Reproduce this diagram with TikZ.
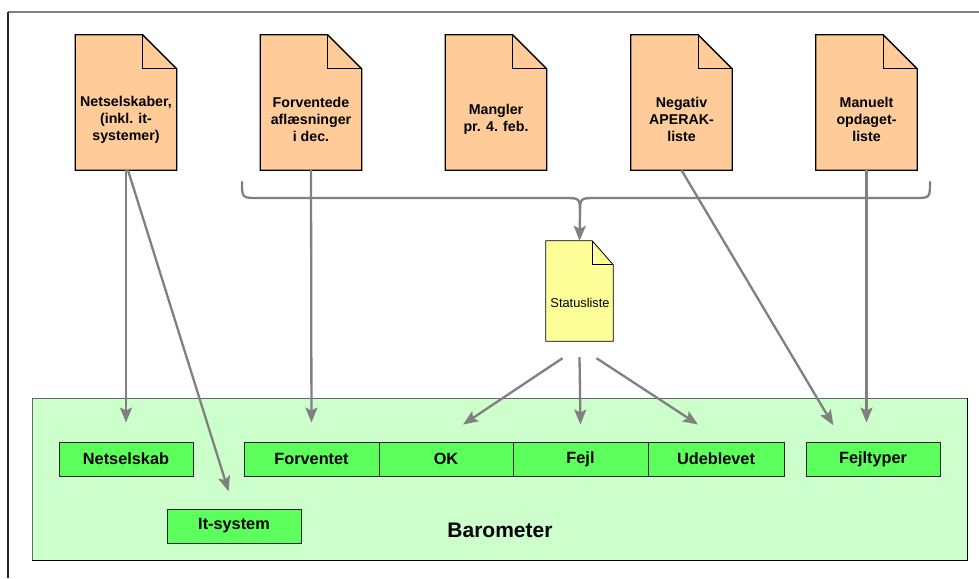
\documentclass[tikz,border=0pt]{standalone}
\usepackage{fontspec}
\setmainfont{Liberation Sans}
\usetikzlibrary{arrows.meta,calc}

\definecolor{docorange}{HTML}{FFCC99}
\definecolor{docyellow}{HTML}{FFFF99}
\definecolor{barobg}{HTML}{CCFFCC}
\definecolor{cellgreen}{HTML}{5CFF5C}
\definecolor{linkgray}{HTML}{808080}

% Document outline with a folded top-right corner, drawn round a named node
% #1 line width, #2 node, #3 fold width, #4 fold height, #5 fill colour
\newcommand{\dogear}[5]{%
  \filldraw[fill=#5, draw=black, line width=#1, line join=miter]
    (#2.north west) -- ([xshift=-#3]#2.north east) -- ([yshift=-#4]#2.north east)
    -- (#2.south east) -- (#2.south west) -- cycle;
  \draw[black, line width=#1, line join=miter]
    ([xshift=-#3]#2.north east) -- ([xshift=-#3,yshift=-#4]#2.north east)
    -- ([yshift=-#4]#2.north east);
}

\begin{document}
\begin{tikzpicture}[x=1pt, y=-1pt,
  docbox/.style={minimum width=101pt, minimum height=135pt, inner sep=0pt},
  smalldoc/.style={minimum width=67pt, minimum height=100pt, inner sep=0pt},
  doctext/.style={align=center, font=\bfseries\fontsize{14.2}{17}\selectfont},
  cell/.style={draw=black!85, line width=0.9pt, fill=cellgreen, inner sep=0pt,
    minimum height=34pt, font=\bfseries\fontsize{16.3}{19}\selectfont},
  link/.style={draw=linkgray, line width=2.3pt,
    -{Stealth[length=15pt, width=12pt, inset=3pt]}},
  linkplain/.style={draw=linkgray, line width=2.3pt}
]
\useasboundingbox (0,0) rectangle (979,578);

% page frame
\draw[linkgray, line width=1.2pt] (8,12) -- (979,12);
\draw[black!85, line width=1.2pt] (8,12) -- (8,578);

% Barometer area
\node[fill=barobg, draw=black!60, line width=1pt, minimum width=935pt,
      minimum height=162pt, inner sep=0pt] (baro) at (499.5,479) {};
\draw[black, line width=1.2pt] (baro.south west) -- (baro.south east) -- (baro.north east);
\node[font=\bfseries\fontsize{21}{24}\selectfont] (barolabel) at (500,530) {Barometer};

% cells inside the Barometer
\node[cell, minimum width=134pt] (ns) at (126,459) {Netselskab};
\node[cell, minimum width=134pt] (it) at (234,526) {It-system};
\node[cell, minimum width=135pt] (fv) at (311.5,459) {Forventet};
\node[cell, minimum width=134pt] (ok) at (446,459) {OK};
\node[cell, minimum width=135pt] (fe) at (580.5,459) {Fejl};
\node[cell, minimum width=136pt] (ud) at (716,459) {Udeblevet};
\node[cell, minimum width=134pt] (ft) at (873,459) {Fejltyper};

% source documents
\node[docbox] (d1) at (126,102.5) {};
\node[docbox] (d2) at (311,102.5) {};
\node[docbox] (d3) at (496,102.5) {};
\node[docbox] (d4) at (681.5,102.5) {};
\node[docbox] (d5) at (866.5,102.5) {};
\foreach \d in {d1,d2,d3,d4,d5} {\dogear{1.3pt}{\d}{34pt}{34pt}{docorange}}
\node[doctext] (t1) at (126,119.5) {Netselskaber,\\(inkl. it-\\systemer)};
\node[doctext] (t2) at (311,119.5) {Forventede\\aflæsninger\\i dec.};
\node[doctext] (t3) at (496,119.5) {Mangler\\pr. 4. feb.};
\node[doctext] (t4) at (681.5,119.5) {Negativ\\APERAK-\\liste};
\node[doctext] (t5) at (866.5,119.5) {Manuelt\\opdaget-\\liste};

% status list document with a soft drop shadow
\node[smalldoc] (st) at (579.5,291) {};
\begin{scope}[shift={(2,2)}]
  \fill[black!35] ($(st.north west)+(2,0)$) -- ($(st.north east)+(-21,0)$)
    -- ($(st.north east)+(0,24)$) -- (st.south east) -- ($(st.south west)+(2,0)$) -- cycle;
\end{scope}
\dogear{0.8pt}{st}{21pt}{24pt}{docyellow}
\node[font=\fontsize{12.8}{15}\selectfont] (stlabel) at (580,303) {Statusliste};

% collecting bracket into the status list
\coordinate (bl) at (242,182);
\coordinate (br) at (930,182);
\coordinate (bm) at (580,214);
\draw[linkplain, line cap=round] (bl) .. controls (242,198) .. (258,198) -- (564,198)
  .. controls (580,198) .. (bm);
\draw[linkplain, line cap=round] (br) .. controls (930,198) .. (914,198) -- (596,198)
  .. controls (580,198) .. (bm);
\draw[link] (bm) -- (st.north);

% connectors from the documents
\draw[link, shorten >=19pt] (d1.south) -- (ns.north);
\draw[link, shorten >=18pt] ([xshift=2pt]d1.south) -- (it.north);
\draw[link, shorten >=19pt] (d2.south) -- (fv.north);
\draw[link, shorten >=19pt] (d4.south) -- ([xshift=-30pt]ft.north);
\draw[link, shorten >=19pt] (d5.south) -- (d5.south |- ft.north);

% connectors from the status list
\draw[link] ([shift={(-17pt,-17pt)}]st.south) -- ([shift={(17pt,17pt)}]ok.north);
\draw[link] ([yshift=-16pt]st.south) -- ([yshift=17pt]fe.north);
\draw[link] ([shift={(17pt,-17pt)}]st.south) -- ([shift={(-18pt,17pt)}]ud.north);
\end{tikzpicture}
\end{document}
